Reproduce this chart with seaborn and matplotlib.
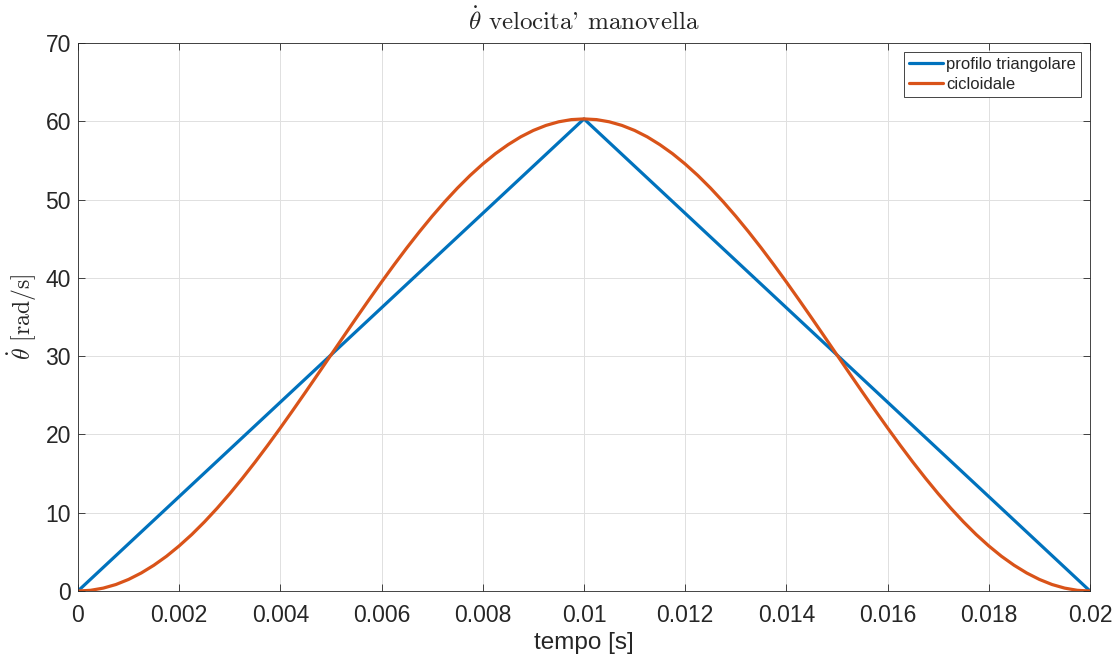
import numpy as np
import pandas as pd
import matplotlib
matplotlib.use("Agg")
import matplotlib.pyplot as plt
import seaborn as sns

# Data
t_tri = [0.0, 0.01, 0.02]
v_tri = [0.0, 60.3, 0.0]

t_cyc = [0.0, 0.00025, 0.0005, 0.00075, 0.001, 0.00125, 0.0015, 0.00175, 0.002, 0.00225,
         0.0025, 0.00275, 0.003, 0.00325, 0.0035, 0.00375, 0.004, 0.00425, 0.0045, 0.00475,
         0.005, 0.00525, 0.0055, 0.00575, 0.006, 0.00625, 0.0065, 0.00675, 0.007, 0.00725,
         0.0075, 0.00775, 0.008, 0.00825, 0.0085, 0.00875, 0.009, 0.00925, 0.0095, 0.00975,
         0.01, 0.01025, 0.0105, 0.01075, 0.011, 0.01125, 0.0115, 0.01175, 0.012, 0.01225,
         0.0125, 0.01275, 0.013, 0.01325, 0.0135, 0.01375, 0.014, 0.01425, 0.0145, 0.01475,
         0.015, 0.01525, 0.0155, 0.01575, 0.016, 0.01625, 0.0165, 0.01675, 0.017, 0.01725,
         0.0175, 0.01775, 0.018, 0.01825, 0.0185, 0.01875, 0.019, 0.01925, 0.0195, 0.01975,
         0.02]
v_cyc = [0.0, 0.09, 0.37, 0.83, 1.48, 2.30, 3.29, 4.44, 5.76, 7.22,
         8.83, 10.57, 12.43, 14.40, 16.46, 18.61, 20.83, 23.11, 25.43, 27.78,
         30.15, 32.52, 34.87, 37.19, 39.47, 41.69, 43.84, 45.90, 47.87, 49.73,
         51.47, 53.08, 54.54, 55.86, 57.01, 58.01, 58.83, 59.47, 59.93, 60.21,
         60.30, 60.21, 59.93, 59.47, 58.83, 58.01, 57.01, 55.86, 54.54, 53.08,
         51.47, 49.73, 47.87, 45.90, 43.84, 41.69, 39.47, 37.19, 34.87, 32.52,
         30.15, 27.78, 25.43, 23.11, 20.83, 18.61, 16.46, 14.40, 12.43, 10.57,
         8.83, 7.22, 5.76, 4.44, 3.29, 2.30, 1.48, 0.83, 0.37, 0.09,
         0.0]

series_names = ["profilo triangolare", "cicloidale"]
colors = ["#0072BD", "#D95319"]

x_ticks = [0, 0.002, 0.004, 0.006, 0.008, 0.01, 0.012, 0.014, 0.016, 0.018, 0.02]
x_tick_labels = ["0", "0.002", "0.004", "0.006", "0.008", "0.01", "0.012", "0.014", "0.016", "0.018", "0.02"]
y_ticks = [0, 10, 20, 30, 40, 50, 60, 70]

df = pd.concat([
    pd.DataFrame({"t": t_tri, "v": v_tri, "serie": series_names[0]}),
    pd.DataFrame({"t": t_cyc, "v": v_cyc, "serie": series_names[1]}),
], ignore_index=True)

sns.set_theme(style="whitegrid")
plt.rcParams["font.family"] = ["Liberation Sans", "DejaVu Sans"]
plt.rcParams["mathtext.fontset"] = "cm"
plt.rcParams["axes.unicode_minus"] = False

fig = plt.figure(figsize=(11.2, 6.58), dpi=100)
ax = fig.add_axes([0.0696, 0.1018, 0.9036, 0.8329])

sns.lineplot(data=df, x="t", y="v", hue="serie", palette=colors, linewidth=2.3,
             sort=False, ax=ax, estimator=None)

ax.set_xlim(0, 0.02)
ax.set_ylim(0, 70)
ax.set_xticks(x_ticks)
ax.set_xticklabels(x_tick_labels)
ax.set_yticks(y_ticks)
ax.tick_params(axis="both", labelsize=16.5, colors="#262626", direction="in",
               length=5, width=0.6, bottom=True, left=True, top=True, right=True,
               labeltop=False, labelright=False, pad=5)
ax.tick_params(axis="x", pad=9)
ax.grid(True, color="#e0e0e0", linewidth=0.7)
for s in ax.spines.values():
    s.set_visible(True)
    s.set_color("#262626")
    s.set_linewidth(0.6)
ax.set_facecolor("white")

ax.set_xlabel("tempo [s]", fontsize=17.5, color="#262626", labelpad=4)
ax.set_ylabel(r"$\dot{\theta}$ [rad/s]", fontsize=17, family="cmr10",
              color="#262626", labelpad=5)
ax.set_title(r"$\dot{\theta}$ velocita' manovella", fontsize=18,
             family="cmr10", color="#262626", pad=9)

leg = ax.legend(loc="upper right", fontsize=12, frameon=True, fancybox=False,
                edgecolor="#262626", framealpha=1, borderpad=0.3,
                handlelength=2.0, handletextpad=0.2, labelspacing=0.3,
                borderaxespad=0.55)
leg.get_frame().set_linewidth(0.6)

fig.savefig("out.png", dpi=100, facecolor="white")
